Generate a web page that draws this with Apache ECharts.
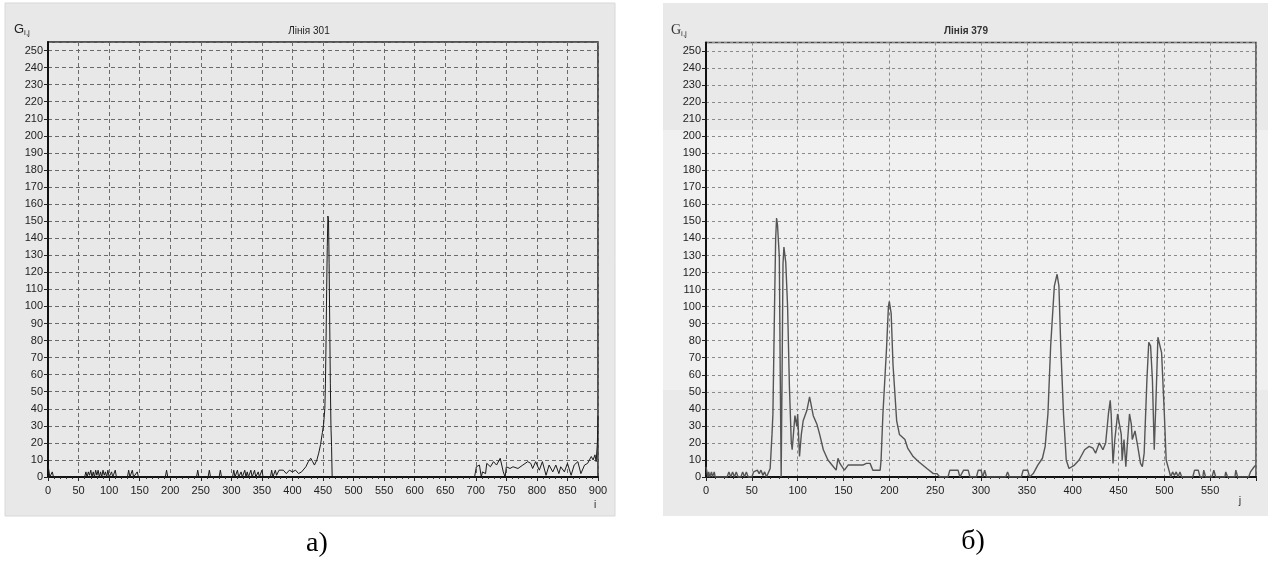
<!DOCTYPE html>
<html><head><meta charset="utf-8">
<script src="https://cdn.jsdelivr.net/npm/echarts@6/dist/echarts.min.js"></script>
<style>html,body{margin:0;padding:0;background:#fff}#c{width:1272px;height:562px}</style>
</head><body><div id="c"></div>
<script>
// ---- texts ----
const leftTitle = 'Лінія 301';
const rightTitle = 'Лінія 379';
const leftXName = 'i';
const rightXName = 'j';
const leftCaption = 'а)';
const rightCaption = 'б)';
// ---- axes ----
const gMin = 0, gMax = 255, gStep = 10;
const leftIMax = 900, rightJMax = 600, xStep = 50;
// ---- data: [i, G] for line 301 ----
const leftPoints = [
[0,7],[2,6],[3,0],[5,0],[7,3],[9,0],
[60,0],[62,3],[64,0],[66,3],[68,1],[70,4],[72,0],[74,3],[76,0],[78,4],[80,1],[82,4],[84,0],[86,3],[88,0],[90,4],[92,1],[94,3],[96,0],[98,4],[100,0],[104,3],[106,0],[110,4],[112,0],
[130,0],[132,4],[134,0],[138,4],[140,0],[146,3],[148,0],
[192,0],[194,4],[196,0],[202,0],[203,1],[205,0],
[243,0],[245,4],[247,0],[262,0],[264,4],[266,0],[280,0],[282,4],[284,0],
[302,0],[304,4],[306,0],[310,4],[312,0],[316,3],[318,0],[322,4],[324,0],[326,3],[328,0],[332,4],[334,0],[338,4],[340,0],[344,3],[346,0],[350,4],[352,0],
[364,0],[366,4],[368,0],[372,4],[374,1],[378,4],[381,3],[385,4],[390,2],[395,4],[400,3],[405,4],[410,2],[415,3],[418,4],[422,6],[426,9],[430,11],[433,9],[436,7],[440,10],[443,14],[446,19],[449,26],[451,31],[453,40],[454,55],[455,80],[456,110],[457,135],[458,153],[459,151],[460,125],[461,90],[462,55],[463,30],[464,18],[465,0],
[698,0],[701,6],[706,7],[709,0],[711,3],[716,2],[718,8],[724,6],[729,9],[734,7],[740,11],[742,10],[745,3],[748,0],[750,6],[756,5],[761,6],[769,5],[777,7],[785,9],[790,8],[793,5],[798,9],[804,4],[809,9],[815,1],[820,7],[826,3],[831,7],[836,2],[839,6],[845,3],[850,8],[856,1],[861,7],[867,9],[872,2],[878,7],[883,8],[889,12],[892,10],[895,13],[897,9],[899,20],[900,36]
];
// ---- data: [j, G] for line 379 ----
const rightPoints = [
[0,6],[1,3],[2,0],[3,3],[4,0],[6,3],[7,0],[9,3],[10,0],
[23,0],[25,3],[27,0],[29,3],[31,0],[33,3],[35,0],[38,0],[40,3],[42,0],[44,3],[46,0],[50,0],[52,3],[54,2],[56,4],[58,2],[60,4],[62,1],[64,3],[66,0],
[70,5],[72,25],[73,37],[75,108],[76,140],[77,152],[78,148],[79,147],[80,129],[81,60],[82,0],[83,60],[84,125],[85,135],[86,136],[87,126],[89,100],[91,53],[93,21],[94,16],[97,36],[99,30],[100,37],[102,12],[104,25],[106,33],[110,39],[113,47],[117,36],[121,31],[124,25],[128,16],[133,10],[139,6],[142,4],[144,11],[146,8],[151,4],[155,7],[171,7],[175,8],[179,8],[182,4],[190,4],[191,10],[193,37],[197,76],[199,100],[200,103],[202,96],[204,66],[208,33],[211,25],[217,22],[220,17],[226,12],[232,9],[241,5],[248,2],[252,2],[255,0],
[264,0],[266,4],[275,4],[277,0],[279,0],[281,4],[286,4],[288,0],[295,0],[297,4],[300,4],[302,0],[304,4],[306,0],[327,0],[329,3],[331,0],[344,0],[346,4],[351,4],[353,0],
[357,2],[362,7],[367,11],[370,18],[373,37],[376,77],[380,112],[383,119],[385,112],[387,77],[390,37],[393,10],[396,5],[402,7],[407,10],[413,16],[418,18],[422,17],[425,14],[429,20],[433,16],[436,20],[439,37],[441,45],[442,37],[444,8],[446,22],[449,37],[451,37],[453,25],[454,10],[456,22],[458,6],[460,22],[462,37],[464,31],[465,22],[468,27],[471,18],[474,8],[476,6],[478,14],[481,57],[483,79],[485,77],[487,57],[489,16],[491,47],[493,82],[495,83],[497,73],[500,37],[502,10],[505,4],
[507,0],[509,3],[511,1],[513,3],[515,0],[517,3],[519,0],[531,0],[533,4],[537,4],[539,0],[542,0],[543,4],[545,0],[552,0],[554,4],[556,0],[566,0],[567,3],[569,0],[577,0],[578,4],[580,0],[592,0],[594,3],[596,2],[598,6],[600,7]
];

const FONT = 'Liberation Sans, Arial, sans-serif';
function yAxisCfg(gi){
  return {
    type:'value', gridIndex:gi, min:gMin, max:gMax, interval:gStep,
    axisLine:{show:true, lineStyle:{color:'#111', width:2}},
    axisTick:{show:true, inside:false, length:4, lineStyle:{color:'#222'}},
    axisLabel:{show:true, fontSize:11, color:'#222', fontFamily:FONT, margin:5, showMaxLabel:false},
    splitLine:{show:true, lineStyle:{color: gi===0?'#6a6a6a':'#8a8a8a', width:1, type: gi===0?[4,3]:[3,3]}}
  };
}
function xAxisCfg(gi, max, showMax){
  return {
    type:'value', gridIndex:gi, min:0, max:max, interval:xStep,
    axisLine:{show:true, onZero:false, lineStyle:{color:'#111', width:2}},
    axisTick:{show:true, length:4, lineStyle:{color:'#222'}},
    minorTick:{show:true, splitNumber:5, length:2, lineStyle:{color:'#333'}},
    axisLabel:{show:true, fontSize:11, color:'#222', fontFamily:FONT, margin:8, showMaxLabel:showMax, showMinLabel:true},
    splitLine:{show:true, lineStyle:{color: gi===0?'#6a6a6a':'#8a8a8a', width:1, type: gi===0?[4,3]:[3,3]}}
  };
}

const chart = echarts.init(document.getElementById('c'), null, {renderer:'canvas'});
chart.setOption({
  animation:false,
  backgroundColor:'#ffffff',
  graphic:[
    {type:'rect', z:-100, shape:{x:5,y:3,width:610,height:513}, style:{fill:'#e8e8e8', stroke:'#d8d8d8', lineWidth:1}},
    {type:'rect', z:-100, shape:{x:663,y:3,width:605,height:127}, style:{fill:'#e9e9e9'}},
    {type:'rect', z:-100, shape:{x:663,y:130,width:605,height:260}, style:{fill:'#f0f0f0'}},
    {type:'rect', z:-100, shape:{x:663,y:390,width:605,height:126}, style:{fill:'#eaeaea'}},
    {type:'text', z:10, style:{x:309, y:31, text:leftTitle, font:'10px '+FONT, fill:'#222', align:'center', verticalAlign:'middle'}},
    {type:'text', z:10, style:{x:966, y:31, text:rightTitle, font:'bold 10px '+FONT, fill:'#333', align:'center', verticalAlign:'middle'}},
    {type:'text', z:10, style:{x:14, y:29, text:'{g|G}{s|i,j}', verticalAlign:'middle',
      rich:{g:{fontSize:13, fontFamily:FONT, fill:'#222'}, s:{fontSize:8, fontFamily:FONT, fill:'#222', padding:[8,0,0,0]}}}},
    {type:'text', z:10, style:{x:671, y:30, text:'{g|G}{s|i,j}', verticalAlign:'middle',
      rich:{g:{fontSize:14, fontFamily:'Liberation Serif, serif', fill:'#333'}, s:{fontSize:8, fontFamily:FONT, fill:'#333', padding:[8,0,0,0]}}}},
    {type:'text', z:10, style:{x:595, y:505, text:leftXName, font:'10px '+FONT, fill:'#222', align:'center', verticalAlign:'middle'}},
    {type:'text', z:10, style:{x:1240, y:501, text:rightXName, font:'11px '+FONT, fill:'#333', align:'center', verticalAlign:'middle'}},
    {type:'text', z:10, style:{x:317, y:544, text:leftCaption, font:'28px Liberation Serif, Times New Roman, serif', fill:'#000', align:'center', verticalAlign:'middle'}},
    {type:'text', z:10, style:{x:973, y:542, text:rightCaption, font:'28px Liberation Serif, Times New Roman, serif', fill:'#000', align:'center', verticalAlign:'middle'}}
  ],
  grid:[
    {left:48, top:42, width:550, height:435, show:true, backgroundColor:'transparent', borderColor:'#222', borderWidth:1.5, containLabel:false, outerBoundsMode:'none'},
    {left:706, top:42.5, width:550, height:434.5, show:true, backgroundColor:'transparent', borderColor:'#444', borderWidth:1.5, containLabel:false, outerBoundsMode:'none'}
  ],
  xAxis:[ xAxisCfg(0, leftIMax, true), xAxisCfg(1, rightJMax, false) ],
  yAxis:[ yAxisCfg(0), yAxisCfg(1) ],
  series:[
    {type:'line', xAxisIndex:0, yAxisIndex:0, data:leftPoints, showSymbol:false, symbol:'none', z:5,
      lineStyle:{color:'#1a1a1a', width:1}},
    {type:'line', xAxisIndex:1, yAxisIndex:1, data:rightPoints, showSymbol:false, symbol:'none', z:5,
      lineStyle:{color:'#555555', width:1.4}}
  ]
});
</script>
</body></html>
